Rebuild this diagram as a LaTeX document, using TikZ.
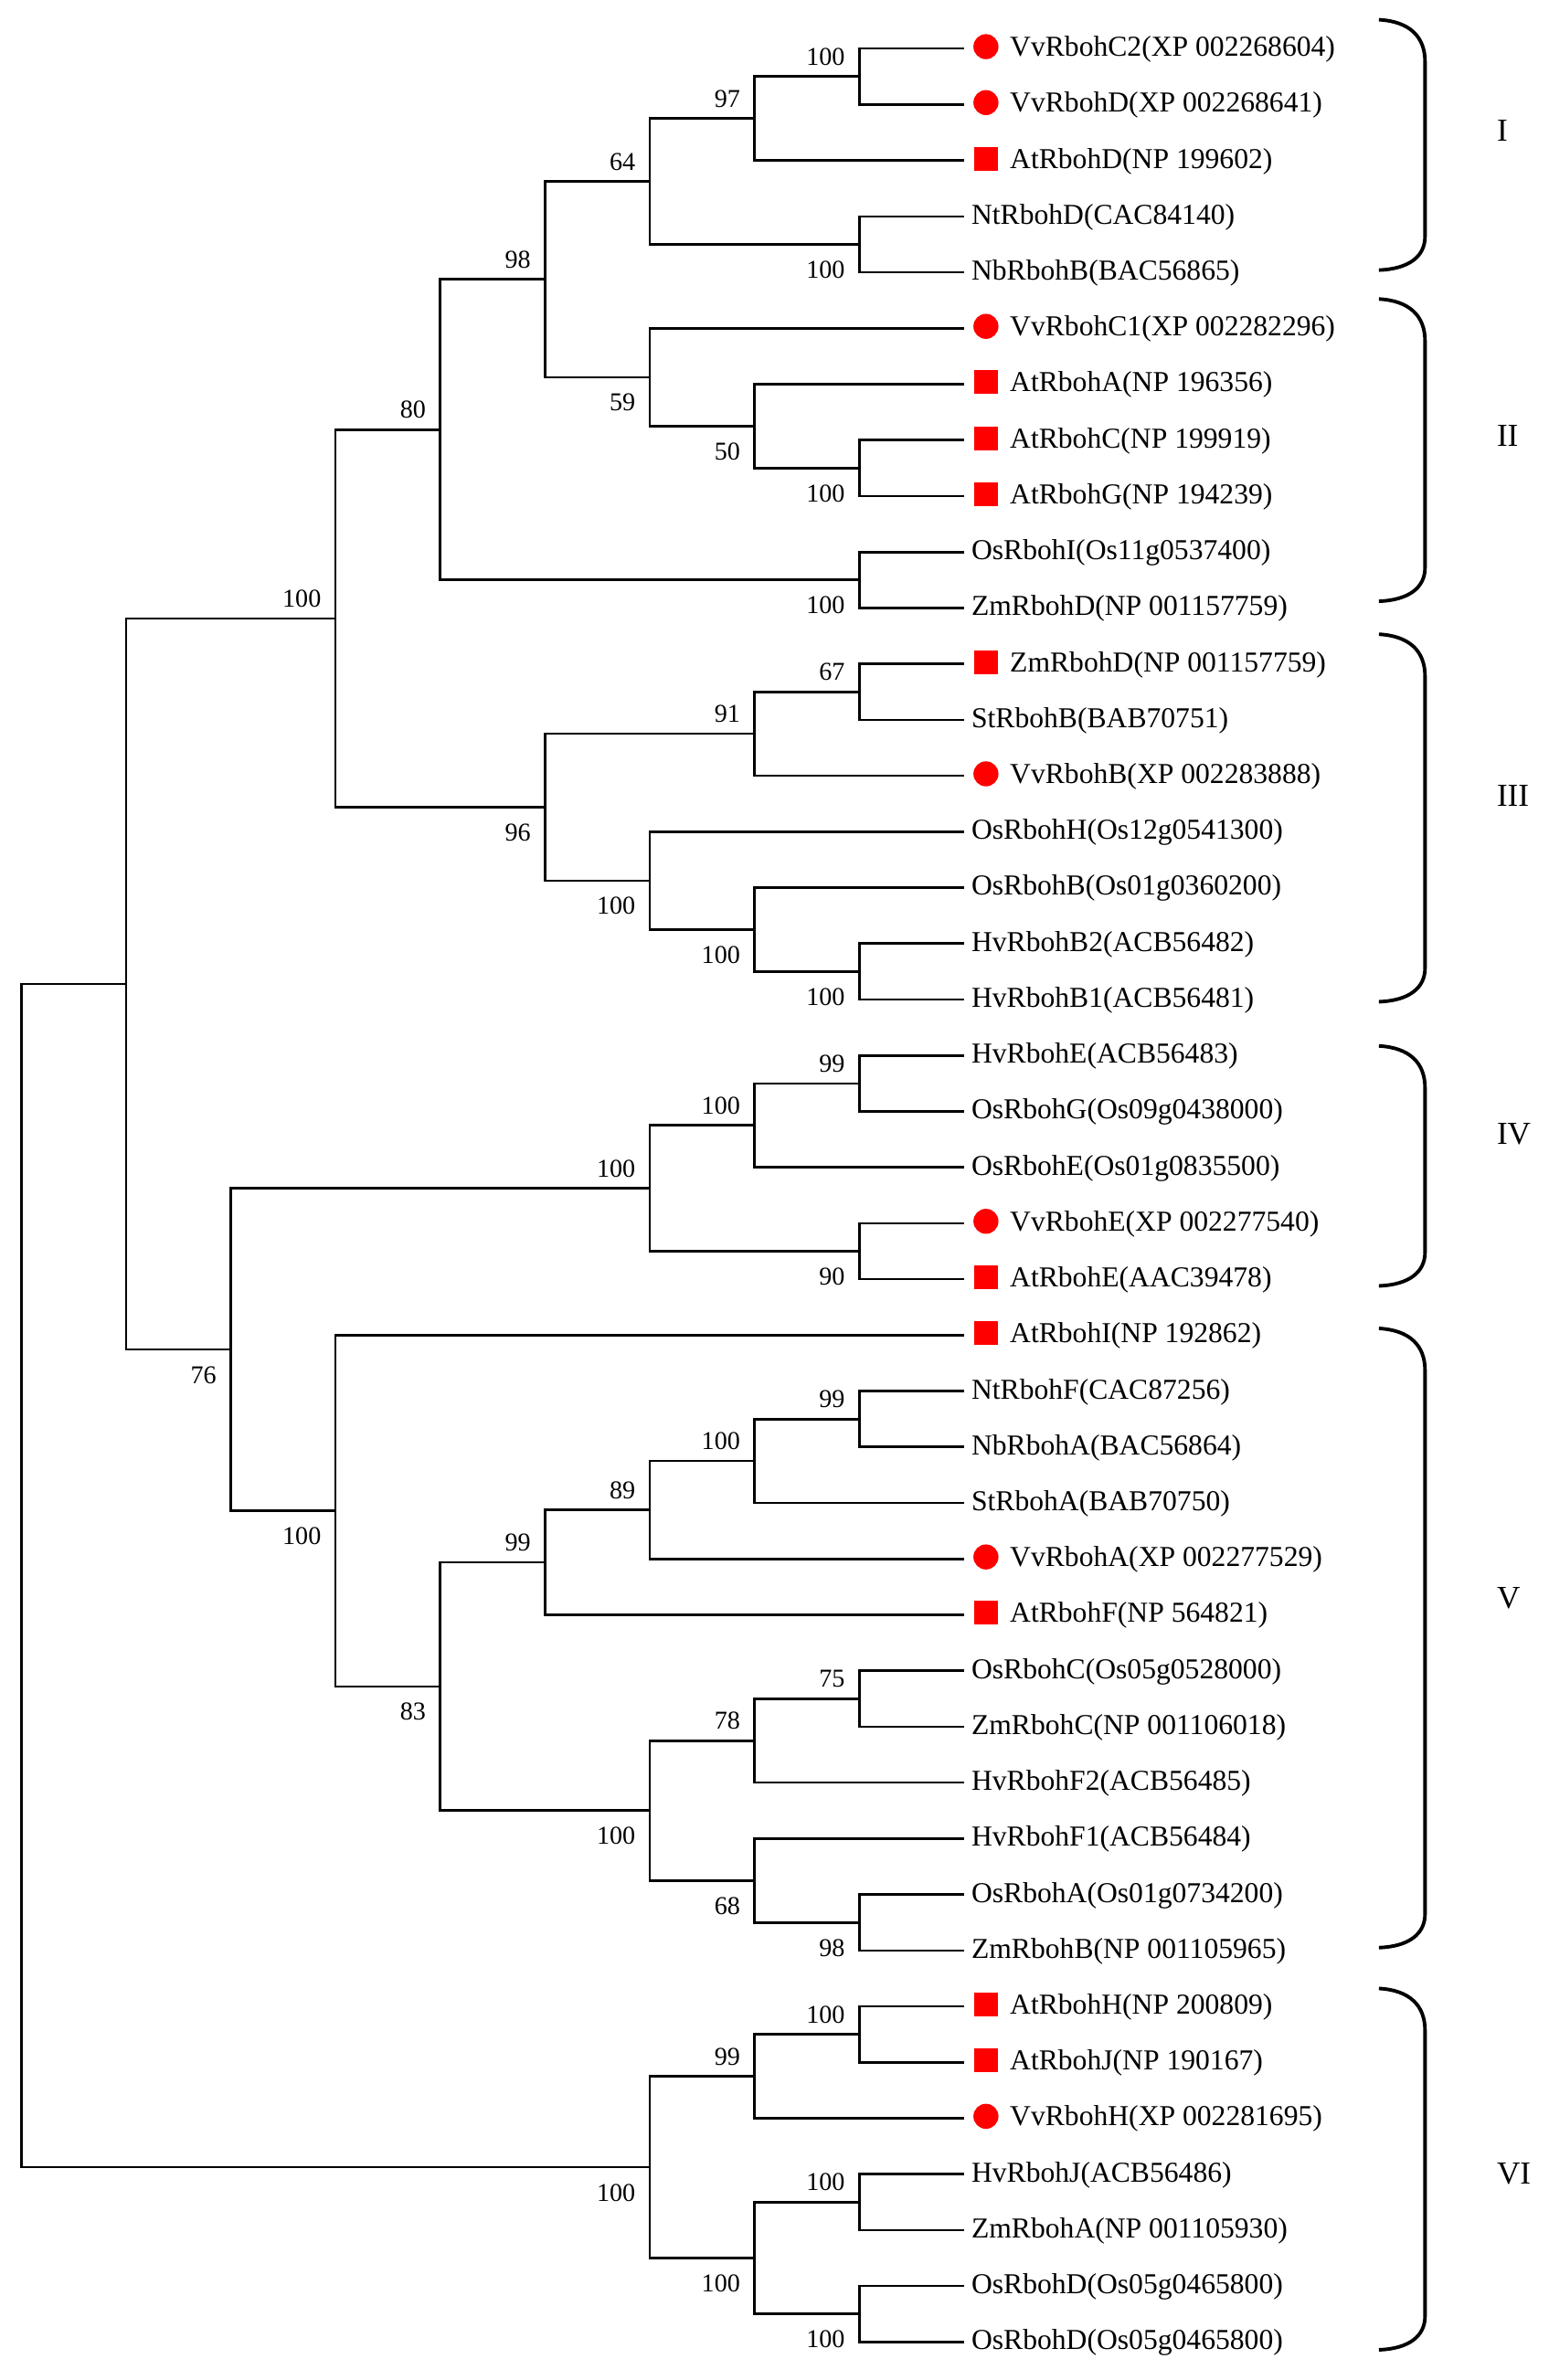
\documentclass[tikz,border=0pt]{standalone}
\usepackage{fontspec}
\setmainfont{Liberation Serif}
\tikzset{
	branch/.style = {line width=0.75pt, draw=black},
	elbow/.style = {branch, to path={|- (\tikztotarget) \tikztonodes}},
	brace/.style = {line width=1.1pt, draw=black},
	taxon/.style = {anchor=base west, inner sep=0pt, yshift=-2.4pt, font=\fontsize{9}{10}\selectfont},
	plain/.style = {xshift=2.1pt},
	marked/.style = {xshift=14.1pt},
	grape/.style = {shape=circle, fill=red, inner sep=0pt, minimum size=7.8pt},
	arab/.style = {shape=rectangle, fill=red, inner sep=0pt, minimum size=7.4pt},
	bslab/.style = {inner sep=0pt, font=\fontsize{8}{9}\selectfont},
	bu/.style = {label={[bslab, xshift=-4.3pt, yshift=3.3pt]above left:#1}},
	bd/.style = {label={[bslab, xshift=-4.3pt, yshift=-5pt]below left:#1}},
	group/.style = {anchor=west, inner sep=0pt, font=\fontsize{10}{12}\selectfont}
}
% bracket from #1 down to #2, group name #3 written at #4
\newcommand{\cladebrace}[4]{%
	\draw[brace] (12.96,{#1}) .. controls (13.25,{#1+0.03}) and (13.40,{#1+0.3}) .. (13.40,{#1+0.75})
		-- (13.40,{#2-0.6}) .. controls (13.40,{#2-0.25}) and (13.25,{#2-0.02}) .. (12.96,{#2});
	\node[group] (#3) at (14.08,#4) {#3};}

\begin{document}
\begin{tikzpicture}[x=1.1466cm, y=-0.6124cm]
	\useasboundingbox (-0.203,0.1316) rectangle (14.580,42.68);
	% leaf tips
	\foreach \i in {1,...,42} \coordinate (t\i) at (9,\i);

	% all the leaves
	\node[taxon, marked] (l1) at (t1) {VvRbohC2(XP 002268604)};
	\node[grape] (m1) at ([xshift=6.8pt, yshift=0.6pt]t1) {};
	\node[taxon, marked] (l2) at (t2) {VvRbohD(XP 002268641)};
	\node[grape] (m2) at ([xshift=6.8pt, yshift=0.6pt]t2) {};
	\node[taxon, marked] (l3) at (t3) {AtRbohD(NP 199602)};
	\node[arab] (m3) at ([xshift=6.8pt, yshift=0.6pt]t3) {};
	\node[taxon, plain] (l4) at (t4) {NtRbohD(CAC84140)};
	\node[taxon, plain] (l5) at (t5) {NbRbohB(BAC56865)};
	\node[taxon, marked] (l6) at (t6) {VvRbohC1(XP 002282296)};
	\node[grape] (m6) at ([xshift=6.8pt, yshift=0.6pt]t6) {};
	\node[taxon, marked] (l7) at (t7) {AtRbohA(NP 196356)};
	\node[arab] (m7) at ([xshift=6.8pt, yshift=0.6pt]t7) {};
	\node[taxon, marked] (l8) at (t8) {AtRbohC(NP 199919)};
	\node[arab] (m8) at ([xshift=6.8pt, yshift=0.6pt]t8) {};
	\node[taxon, marked] (l9) at (t9) {AtRbohG(NP 194239)};
	\node[arab] (m9) at ([xshift=6.8pt, yshift=0.6pt]t9) {};
	\node[taxon, plain] (l10) at (t10) {OsRbohI(Os11g0537400)};
	\node[taxon, plain] (l11) at (t11) {ZmRbohD(NP 001157759)};
	\node[taxon, marked] (l12) at (t12) {ZmRbohD(NP 001157759)};
	\node[arab] (m12) at ([xshift=6.8pt, yshift=0.6pt]t12) {};
	\node[taxon, plain] (l13) at (t13) {StRbohB(BAB70751)};
	\node[taxon, marked] (l14) at (t14) {VvRbohB(XP 002283888)};
	\node[grape] (m14) at ([xshift=6.8pt, yshift=0.6pt]t14) {};
	\node[taxon, plain] (l15) at (t15) {OsRbohH(Os12g0541300)};
	\node[taxon, plain] (l16) at (t16) {OsRbohB(Os01g0360200)};
	\node[taxon, plain] (l17) at (t17) {HvRbohB2(ACB56482)};
	\node[taxon, plain] (l18) at (t18) {HvRbohB1(ACB56481)};
	\node[taxon, plain] (l19) at (t19) {HvRbohE(ACB56483)};
	\node[taxon, plain] (l20) at (t20) {OsRbohG(Os09g0438000)};
	\node[taxon, plain] (l21) at (t21) {OsRbohE(Os01g0835500)};
	\node[taxon, marked] (l22) at (t22) {VvRbohE(XP 002277540)};
	\node[grape] (m22) at ([xshift=6.8pt, yshift=0.6pt]t22) {};
	\node[taxon, marked] (l23) at (t23) {AtRbohE(AAC39478)};
	\node[arab] (m23) at ([xshift=6.8pt, yshift=0.6pt]t23) {};
	\node[taxon, marked] (l24) at (t24) {AtRbohI(NP 192862)};
	\node[arab] (m24) at ([xshift=6.8pt, yshift=0.6pt]t24) {};
	\node[taxon, plain] (l25) at (t25) {NtRbohF(CAC87256)};
	\node[taxon, plain] (l26) at (t26) {NbRbohA(BAC56864)};
	\node[taxon, plain] (l27) at (t27) {StRbohA(BAB70750)};
	\node[taxon, marked] (l28) at (t28) {VvRbohA(XP 002277529)};
	\node[grape] (m28) at ([xshift=6.8pt, yshift=0.6pt]t28) {};
	\node[taxon, marked] (l29) at (t29) {AtRbohF(NP 564821)};
	\node[arab] (m29) at ([xshift=6.8pt, yshift=0.6pt]t29) {};
	\node[taxon, plain] (l30) at (t30) {OsRbohC(Os05g0528000)};
	\node[taxon, plain] (l31) at (t31) {ZmRbohC(NP 001106018)};
	\node[taxon, plain] (l32) at (t32) {HvRbohF2(ACB56485)};
	\node[taxon, plain] (l33) at (t33) {HvRbohF1(ACB56484)};
	\node[taxon, plain] (l34) at (t34) {OsRbohA(Os01g0734200)};
	\node[taxon, plain] (l35) at (t35) {ZmRbohB(NP 001105965)};
	\node[taxon, marked] (l36) at (t36) {AtRbohH(NP 200809)};
	\node[arab] (m36) at ([xshift=6.8pt, yshift=0.6pt]t36) {};
	\node[taxon, marked] (l37) at (t37) {AtRbohJ(NP 190167)};
	\node[arab] (m37) at ([xshift=6.8pt, yshift=0.6pt]t37) {};
	\node[taxon, marked] (l38) at (t38) {VvRbohH(XP 002281695)};
	\node[grape] (m38) at ([xshift=6.8pt, yshift=0.6pt]t38) {};
	\node[taxon, plain] (l39) at (t39) {HvRbohJ(ACB56486)};
	\node[taxon, plain] (l40) at (t40) {ZmRbohA(NP 001105930)};
	\node[taxon, plain] (l41) at (t41) {OsRbohD(Os05g0465800)};
	\node[taxon, plain] (l42) at (t42) {OsRbohD(Os05g0465800)};

	% inner nodes with bootstrap values
	\coordinate[bu=100] (a1) at (8,1.5);
	\coordinate[bu=97] (a2) at (7,2.25);
	\coordinate[bd=100] (a4) at (8,4.5);
	\coordinate[bu=64] (a3) at (6,3.375);
	\coordinate[bd=100] (b1) at (8,8.5);
	\coordinate[bd=50] (b2) at (7,7.75);
	\coordinate[bd=59] (b3) at (6,6.875);
	\coordinate[bu=98] (a5) at (5,5.125);
	\coordinate[bd=100] (c1) at (8,10.5);
	\coordinate[bu=80] (a6) at (4,7.8125);
	\coordinate[bu=67] (d1) at (8,12.5);
	\coordinate[bu=91] (d2) at (7,13.25);
	\coordinate[bd=100] (d4) at (8,17.5);
	\coordinate[bd=100] (d5) at (7,16.75);
	\coordinate[bd=100] (d6) at (6,15.875);
	\coordinate[bd=96] (d3) at (5,14.5625);
	\coordinate[bu=100] (a7) at (3,11.1875);
	\coordinate[bu=99] (e1) at (8,19.5);
	\coordinate[bu=100] (e2) at (7,20.25);
	\coordinate[bd=90] (e4) at (8,22.5);
	\coordinate[bu=100] (e3) at (6,21.375);
	\coordinate[bu=99] (g1) at (8,25.5);
	\coordinate[bu=100] (g2) at (7,26.25);
	\coordinate[bu=89] (g3) at (6,27.125);
	\coordinate[bu=99] (g4) at (5,28.0625);
	\coordinate[bu=75] (h1) at (8,30.5);
	\coordinate[bu=78] (h2) at (7,31.25);
	\coordinate[bd=98] (h4) at (8,34.5);
	\coordinate[bd=68] (h5) at (7,33.75);
	\coordinate[bd=100] (h3) at (6,32.5);
	\coordinate[bd=83] (g5) at (4,30.28125);
	\coordinate[bd=100] (g6) at (3,27.140625);
	\coordinate[bd=76] (f0) at (2,24.2578);
	\coordinate (r1) at (1,17.7227);
	\coordinate[bu=100] (k1) at (8,36.5);
	\coordinate[bu=99] (k2) at (7,37.25);
	\coordinate[bu=100] (k4) at (8,39.5);
	\coordinate[bd=100] (k6) at (8,41.5);
	\coordinate[bd=100] (k5) at (7,40.5);
	\coordinate[bd=100] (k3) at (6,38.875);
	\coordinate (root) at (0,28.2988);

	% branches
	\draw (a1) edge[elbow] (t1) edge[elbow] (t2);
	\draw (a2) edge[elbow] (a1) edge[elbow] (t3);
	\draw (a4) edge[elbow] (t4) edge[elbow] (t5);
	\draw (a3) edge[elbow] (a2) edge[elbow] (a4);
	\draw (b1) edge[elbow] (t8) edge[elbow] (t9);
	\draw (b2) edge[elbow] (t7) edge[elbow] (b1);
	\draw (b3) edge[elbow] (t6) edge[elbow] (b2);
	\draw (a5) edge[elbow] (a3) edge[elbow] (b3);
	\draw (c1) edge[elbow] (t10) edge[elbow] (t11);
	\draw (a6) edge[elbow] (a5) edge[elbow] (c1);
	\draw (d1) edge[elbow] (t12) edge[elbow] (t13);
	\draw (d2) edge[elbow] (d1) edge[elbow] (t14);
	\draw (d4) edge[elbow] (t17) edge[elbow] (t18);
	\draw (d5) edge[elbow] (t16) edge[elbow] (d4);
	\draw (d6) edge[elbow] (t15) edge[elbow] (d5);
	\draw (d3) edge[elbow] (d2) edge[elbow] (d6);
	\draw (a7) edge[elbow] (a6) edge[elbow] (d3);
	\draw (e1) edge[elbow] (t19) edge[elbow] (t20);
	\draw (e2) edge[elbow] (e1) edge[elbow] (t21);
	\draw (e4) edge[elbow] (t22) edge[elbow] (t23);
	\draw (e3) edge[elbow] (e2) edge[elbow] (e4);
	\draw (g1) edge[elbow] (t25) edge[elbow] (t26);
	\draw (g2) edge[elbow] (g1) edge[elbow] (t27);
	\draw (g3) edge[elbow] (g2) edge[elbow] (t28);
	\draw (g4) edge[elbow] (g3) edge[elbow] (t29);
	\draw (h1) edge[elbow] (t30) edge[elbow] (t31);
	\draw (h2) edge[elbow] (h1) edge[elbow] (t32);
	\draw (h4) edge[elbow] (t34) edge[elbow] (t35);
	\draw (h5) edge[elbow] (t33) edge[elbow] (h4);
	\draw (h3) edge[elbow] (h2) edge[elbow] (h5);
	\draw (g5) edge[elbow] (g4) edge[elbow] (h3);
	\draw (g6) edge[elbow] (t24) edge[elbow] (g5);
	\draw (f0) edge[elbow] (e3) edge[elbow] (g6);
	\draw (r1) edge[elbow] (a7) edge[elbow] (f0);
	\draw (k1) edge[elbow] (t36) edge[elbow] (t37);
	\draw (k2) edge[elbow] (k1) edge[elbow] (t38);
	\draw (k4) edge[elbow] (t39) edge[elbow] (t40);
	\draw (k6) edge[elbow] (t41) edge[elbow] (t42);
	\draw (k5) edge[elbow] (k4) edge[elbow] (k6);
	\draw (k3) edge[elbow] (k2) edge[elbow] (k5);
	\draw (root) edge[elbow] (r1) edge[elbow] (k3);

	% groups
	\cladebrace{0.484}{4.96}{I}{2.47}
	\cladebrace{5.477}{10.88}{II}{7.92}
	\cladebrace{11.47}{18.04}{III}{14.35}
	\cladebrace{18.83}{23.12}{IV}{20.4}
	\cladebrace{23.88}{34.95}{V}{28.7}
	\cladebrace{35.68}{42.14}{VI}{39.0}
\end{tikzpicture}
\end{document}
